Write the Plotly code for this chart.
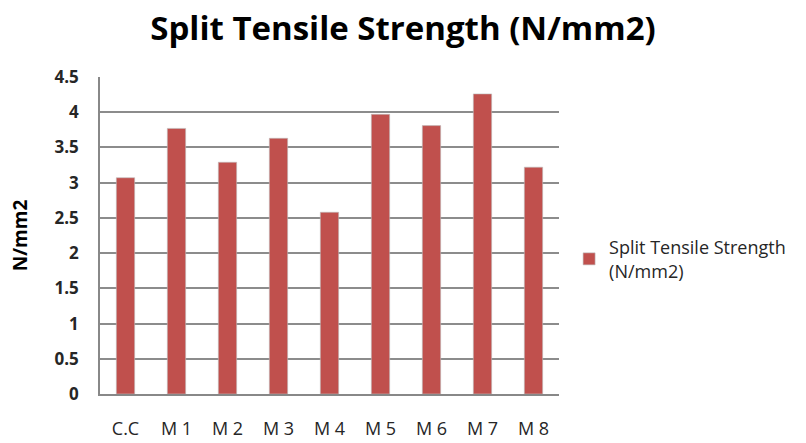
import plotly.graph_objects as go

categories = ["C.C", "M 1", "M 2", "M 3", "M 4", "M 5", "M 6", "M 7", "M 8"]
strength = [3.07, 3.77, 3.29, 3.63, 2.58, 3.97, 3.81, 4.26, 3.22]
y_ticks = [0, 0.5, 1, 1.5, 2, 2.5, 3, 3.5, 4, 4.5]
y_tick_text = ["0", "0.5", "1", "1.5", "2", "2.5", "3", "3.5", "4", "4.5"]

fig = go.Figure()
fig.add_trace(go.Bar(
    x=categories,
    y=strength,
    name="Split Tensile Strength<br>(N/mm2)",
    marker=dict(color="#C0504D", line=dict(color="rgba(190,190,190,0.6)", width=1)),
    showlegend=True,
))

fig.update_layout(
    width=806,
    height=443,
    paper_bgcolor="white",
    plot_bgcolor="white",
    margin=dict(l=100, r=247, t=77, b=49),
    bargap=0.64,
    title=dict(
        text="<b>Split Tensile Strength (N/mm2)</b>",
        x=0.5,
        xanchor="center",
        y=0.935,
        yanchor="middle",
        font=dict(family="Open Sans", size=33, color="#000000"),
    ),
    font=dict(family="Open Sans", color="#262626"),
    legend=dict(
        x=1.022,
        y=0.426,
        xanchor="left",
        yanchor="middle",
        font=dict(size=18, color="#262626"),
        itemwidth=30,
        borderwidth=0,
        bgcolor="rgba(0,0,0,0)",
    ),
    xaxis=dict(
        automargin=False,
        showline=True,
        linecolor="#888888",
        linewidth=1.5,
        showgrid=False,
        ticks="",
        ticklabelstandoff=18,
        tickfont=dict(size=18, color="#262626"),
    ),
    yaxis=dict(
        automargin=False,
        range=[0, 4.5],
        tickvals=y_ticks,
        ticktext=[f"<b>{t}</b>" for t in y_tick_text],
        showline=True,
        linecolor="#888888",
        linewidth=1.5,
        showgrid=True,
        gridcolor="#8c8c8c",
        gridwidth=1.8,
        zeroline=False,
        ticks="",
        ticklen=0,
        ticklabelstandoff=16,
        tickfont=dict(size=17, color="#262626"),
        title=dict(text="<b>N/mm2</b>", font=dict(size=19, color="#000000"), standoff=22),
    ),
)

fig.write_html("out.html")
